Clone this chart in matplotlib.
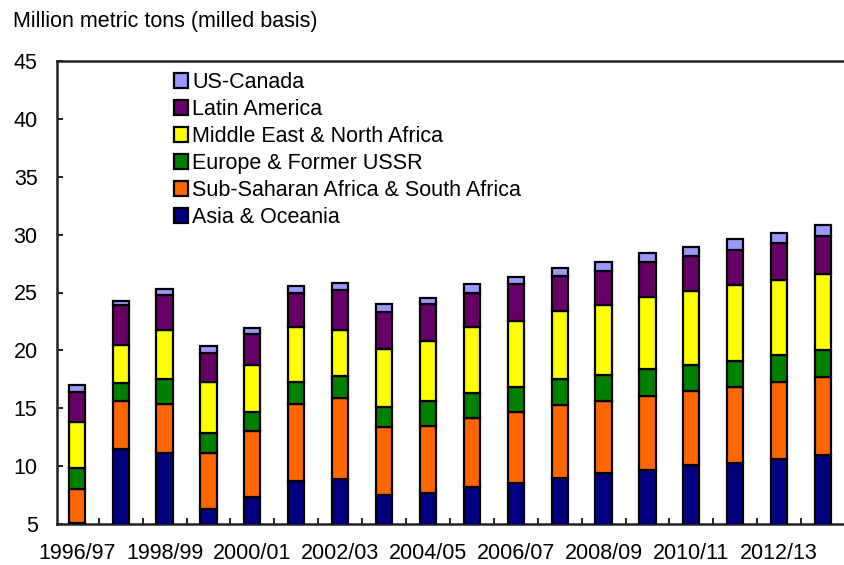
import numpy as np
import matplotlib
matplotlib.use('Agg')
import matplotlib.pyplot as plt

plt.rcParams['font.family'] = ['Liberation Sans', 'DejaVu Sans']

years = ['1996/97', '1997/98', '1998/99', '1999/00', '2000/01', '2001/02',
         '2002/03', '2003/04', '2004/05', '2005/06', '2006/07', '2007/08',
         '2008/09', '2009/10', '2010/11', '2011/12', '2012/13', '2013/14']

asia = [5.1, 11.5, 11.1, 6.3, 7.3, 8.7, 8.9, 7.5, 7.7, 8.2, 8.5, 9.0,
        9.4, 9.7, 10.1, 10.3, 10.6, 11.0]
sub_sahara = [2.9, 4.1, 4.3, 4.8, 5.7, 6.7, 7.0, 5.9, 5.8, 6.0, 6.2, 6.25,
              6.2, 6.4, 6.4, 6.55, 6.7, 6.7]
europe = [1.8, 1.6, 2.1, 1.75, 1.7, 1.9, 1.9, 1.7, 2.1, 2.1, 2.1, 2.25,
          2.25, 2.3, 2.25, 2.25, 2.3, 2.3]
mena = [4.05, 3.3, 4.3, 4.45, 4.0, 4.7, 4.0, 5.0, 5.2, 5.7, 5.7, 5.9,
        6.1, 6.2, 6.4, 6.55, 6.5, 6.6]
latin = [2.55, 3.4, 3.0, 2.5, 2.7, 3.0, 3.4, 3.2, 3.2, 3.0, 3.2, 3.0,
         2.9, 3.0, 3.0, 3.0, 3.2, 3.3]
us_canada = [0.57, 0.35, 0.46, 0.55, 0.55, 0.6, 0.6, 0.7, 0.5, 0.75, 0.6, 0.7,
             0.8, 0.8, 0.8, 1.0, 0.8, 0.9]

series = [
	('Asia & Oceania', asia, '#000080'),
	('Sub-Saharan Africa & South Africa', sub_sahara, '#FF6600'),
	('Europe & Former USSR', europe, '#008000'),
	('Middle East & North Africa', mena, '#FFFF00'),
	('Latin America', latin, '#660066'),
	('US-Canada', us_canada, '#9999FF'),
]

fs = 15.5

fig = plt.figure(figsize=(8.45, 5.65), dpi=100)
ax = fig.add_axes([57/845, 1 - 524/565, 1 - 57/845, (524 - 61)/565])

x = np.arange(len(years))
bottom = np.zeros(len(years))
for name, vals, col in series:
	vals = np.array(vals)
	ax.bar(x, vals, 0.37, bottom=bottom, color=col, edgecolor='black',
	       linewidth=1.6, label=name, zorder=3)
	bottom += vals

ax.set_xlim(-0.45, 17.5)
ax.set_ylim(5, 45)
ax.set_yticks(range(5, 46, 5))
ax.set_xticks(x[::2])
ax.set_xticklabels(years[::2])
ax.set_xticks(x[:-1] + 0.5, minor=True)
ax.tick_params(axis='y', direction='in', length=4, width=1.2, pad=14,
               labelsize=fs)
ax.tick_params(axis='x', which='major', length=0, pad=14, labelsize=fs)
ax.tick_params(axis='x', which='minor', direction='in', length=4, width=1.2)

for s in ['left', 'bottom', 'top']:
	ax.spines[s].set_linewidth(1.8)
	ax.spines[s].set_color('#222222')
ax.spines['right'].set_visible(False)

h, l = ax.get_legend_handles_labels()
ax.legend(h[::-1], l[::-1], loc='upper left', bbox_to_anchor=(0.148, 0.976),
          frameon=False, fontsize=fs, handlelength=0.66, handleheight=0.66,
          handletextpad=0.2, labelspacing=0.28, borderpad=0, borderaxespad=0)

fig.text(13/845, 1 - 22/565, 'Million metric tons (milled basis)',
         fontsize=fs, va='center', ha='left')

fig.savefig('out.png', dpi=100)
